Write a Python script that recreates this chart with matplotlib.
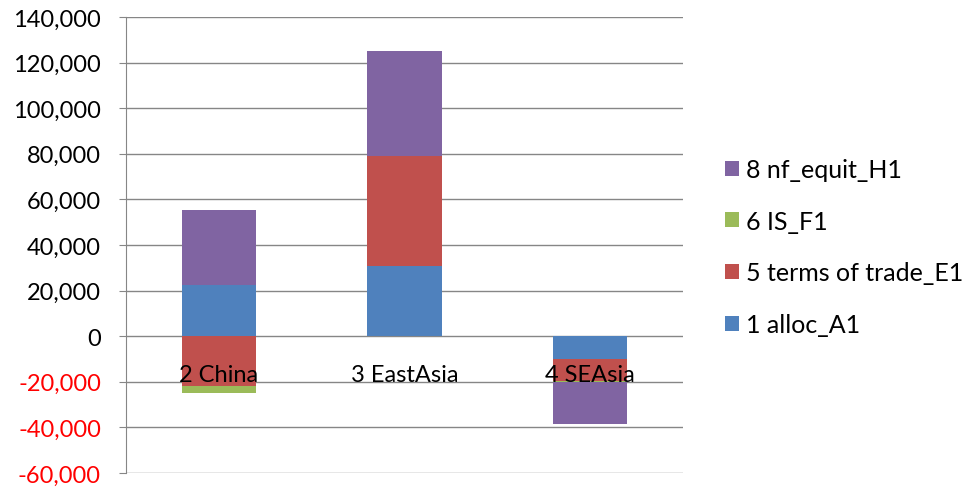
import numpy as np
import matplotlib.pyplot as plt
from matplotlib.ticker import FuncFormatter

regions = ["2 China", "3 EastAsia", "4 SEAsia"]
series = ["1 alloc_A1", "5 terms of trade_E1", "6 IS_F1", "8 nf_equit_H1"]
alloc = [22500, 30800, -9950]
tot = [-21800, 48450, -9650]
is_f = [-2900, 0, -700]
equit = [33000, 45650, -18000]
colors = ["#4F81BD", "#C0504D", "#9BBB59", "#8064A2"]

plt.rcParams['font.family'] = ['Lato', 'DejaVu Sans']

fig = plt.figure(figsize=(9.78, 4.89), dpi=100)
ax = fig.add_axes([126 / 978, 1 - 474 / 489, (683 - 126) / 978, (474 - 18) / 489])

x = np.arange(len(regions))
pos = np.zeros(len(regions))
neg = np.zeros(len(regions))
handles = []
for vals, c, name in zip([alloc, tot, is_f, equit], colors, series):
    v = np.array(vals, dtype=float)
    bottom = np.where(v >= 0, pos, neg)
    h = ax.bar(x, v, 0.4, bottom=bottom, color=c, label=name, zorder=3)
    handles.append(h)
    pos = pos + np.where(v >= 0, v, 0)
    neg = neg + np.where(v < 0, v, 0)

ax.set_xlim(-0.5, 2.5)
ax.set_ylim(-60000, 140000)
ax.set_yticks(np.arange(-60000, 140001, 20000))
ax.yaxis.set_major_formatter(FuncFormatter(lambda v, p: f"{int(v):,}"))
for t, v in zip(ax.get_yticklabels(), ax.get_yticks()):
    t.set_color("#FF0000" if v < 0 else "#000000")
ax.tick_params(axis='y', labelsize=17, length=5, color="#868686", pad=13)
ax.set_xticks([])
ax.grid(axis='y', color="#868686", lw=1, zorder=0)
for s in ['top', 'right', 'bottom']:
    ax.spines[s].set_visible(False)
ax.spines['left'].set_color("#868686")

# category labels sit just under the zero line, over the bars
for xi, r in zip(x, regions):
    ax.annotate(r, (xi, 0), xytext=(0, -38), textcoords='offset pixels',
                ha='center', va='center', fontsize=17, zorder=5)

fig.legend(handles[::-1], series[::-1], loc='center left',
           bbox_to_anchor=(725 / 978, 1 - 248 / 489),
           frameon=False, fontsize=18, handlelength=0.55, handleheight=0.55,
           labelspacing=1.15, handletextpad=0.3, borderpad=0, borderaxespad=0)

fig.savefig("out.png")
